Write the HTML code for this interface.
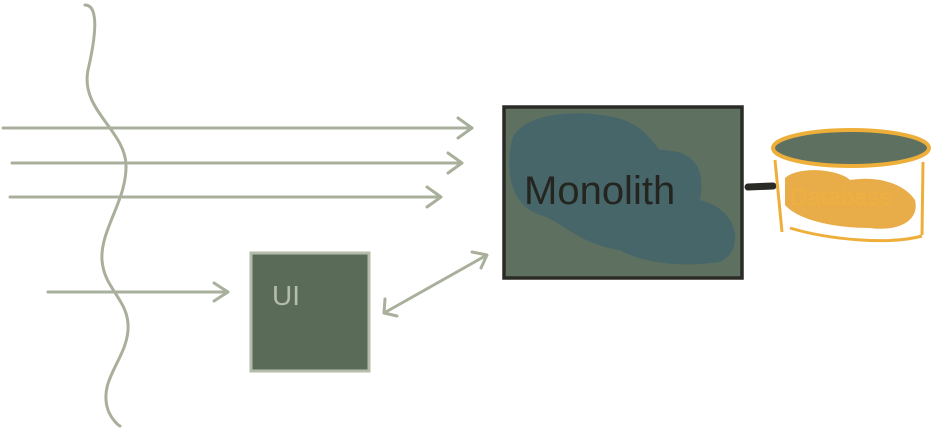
<!DOCTYPE html>
<html><head><meta charset="utf-8"><style>
html,body{margin:0;padding:0;background:#fff;width:936px;height:431px;overflow:hidden}
svg{display:block}
</style></head><body>
<svg width="936" height="431" viewBox="0 0 936 431">
<g fill="none" stroke="#a8b09c" stroke-width="3" stroke-linecap="round">
<path d="M85,5 C100,5 95,40 88,70 C80,110 125,130 126,165 C127,200 100,230 102,260 C104,290 130,300 128,330 C126,360 98,380 108,410 C112,420 118,425 120,426"/>
</g>
<g stroke="#a8b09c" stroke-width="3" fill="none" stroke-linecap="round" stroke-linejoin="round">
<path d="M3,128 L472,128 M458,118 L472,128 L458,138"/>
<path d="M12,163 L462,163 M448,153 L462,163 L448,173"/>
<path d="M10,197 L441,197 M427,187 L441,197 L427,207"/>
<path d="M48,292 L228,292 M214,283 L228,292 L214,301"/>
<path d="M384,313 L487,255 M385,299 L384,313 L397,316 M472,252 L487,255 L481,268"/>
</g>
<g>
<rect x="251" y="253" width="118" height="118" fill="#5a6b58" stroke="#b5bcaa" stroke-width="3"/>
<text x="272" y="305" font-family="Liberation Sans, sans-serif" font-size="28" fill="#b5bcaa">UI</text>
</g>
<g>
<rect x="504" y="107" width="238" height="171" fill="#5e7060" stroke="#2a2a26" stroke-width="3.5"/>
<path d="M512,140 C520,115 570,110 600,115 C640,118 650,140 660,150 C700,150 705,175 700,200 C740,210 745,250 720,262 C680,268 640,262 620,250 C580,245 560,220 540,215 C510,205 505,170 512,140 Z" fill="#46666a"/>
<text x="524" y="204" font-family="Liberation Sans, sans-serif" font-size="40" fill="#25251f">Monolith</text>
</g>
<path d="M748,187 L773,186" stroke="#2a2a26" stroke-width="7" stroke-linecap="round"/>
<g>
<path d="M785,178 C800,165 840,170 850,180 C880,175 905,185 915,200 C920,220 900,232 870,228 C840,228 800,222 785,205 Z" fill="#e8ad48"/>
<ellipse cx="851" cy="148" rx="78" ry="18" fill="#5e7060" stroke="#eeaf3a" stroke-width="4"/>
<path d="M775,160 L782,232 M923,162 L922,235 M790,228 C830,240 890,245 922,236" fill="none" stroke="#eeaf3a" stroke-width="3"/>
<text x="790" y="205" font-family="Liberation Sans, sans-serif" font-size="24" fill="#eeb040">Database</text>
</g>
</svg>
</body></html>
